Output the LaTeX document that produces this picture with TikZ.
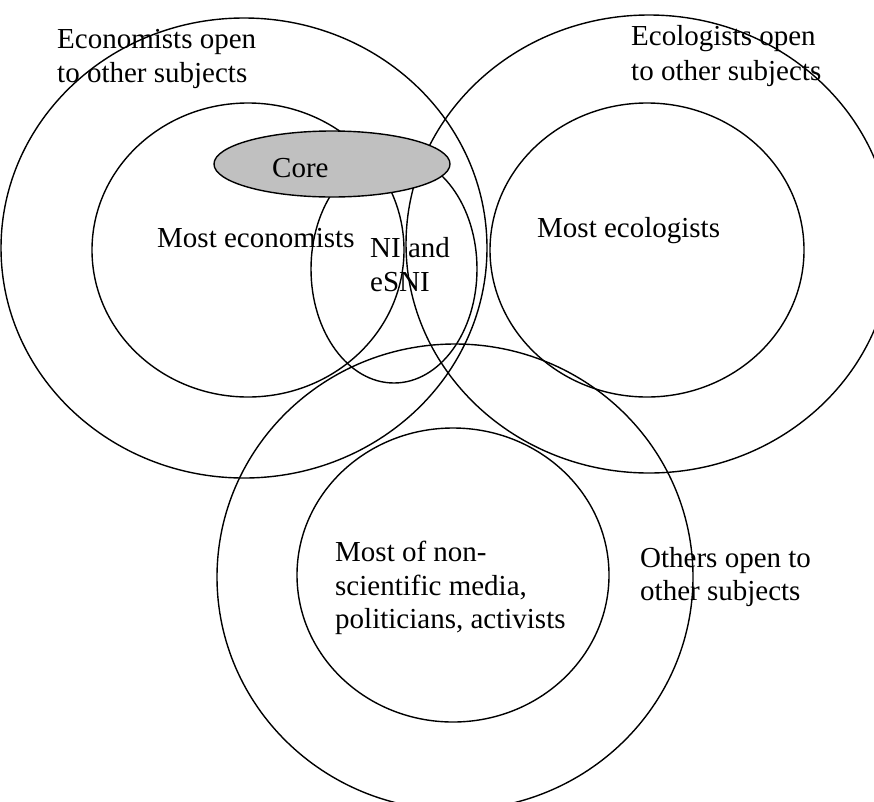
\documentclass[tikz,border=0pt]{standalone}
\usepackage{fontspec}
\setmainfont{Liberation Serif}
\begin{document}
\begin{tikzpicture}[x=1pt,y=-1pt,
  ring/.style={draw=black,line width=1.4pt},
  lbl/.style={inner sep=0pt,align=left,anchor=base west,font=\fontsize{29}{34}\selectfont}]
\useasboundingbox (0,0) rectangle (874,801);
\clip (0,0) rectangle (874,801);
% outer circles
\draw[ring] (244,248) ellipse [x radius=243pt, y radius=230pt];
\draw[ring] (649,244) ellipse [x radius=243pt, y radius=229pt];
\draw[ring] (455,577) ellipse [x radius=238pt, y radius=233pt];
% inner circles
\draw[ring] (248,250) ellipse [x radius=156pt, y radius=147pt];
\draw[ring] (647,250) ellipse [x radius=157pt, y radius=147pt];
\draw[ring] (453,575) ellipse [x radius=156pt, y radius=147pt];
% NI and eSNI
\draw[ring] (394,269) ellipse [x radius=83pt, y radius=114pt];
% core
\draw[ring,fill={rgb,255:red,192;green,192;blue,192}] (332,164) ellipse [x radius=118pt, y radius=33pt];
% labels
\node[lbl] (ecoA) at (57,48) {Economists open};
\node[lbl] (ecoB) at (57,82) {to other subjects};
\node[lbl] (ecolA) at (631,45) {Ecologists open};
\node[lbl] (ecolB) at (631,80) {to other subjects};
\node[lbl] (core) at (272,177) {Core};
\node[lbl] (mecon) at (157,247) {Most economists};
\node[lbl] (niA) at (370,257) {NI and};
\node[lbl] (niB) at (370,291) {eSNI};
\node[lbl] (mecol) at (537,237) {Most ecologists};
\node[lbl] (mA) at (335,561) {Most of non-};
\node[lbl] (mB) at (335,595) {scientific media,};
\node[lbl] (mC) at (335,628) {politicians, activists};
\node[lbl] (othA) at (640,567) {Others open to};
\node[lbl] (othB) at (640,600) {other subjects};
\end{tikzpicture}
\end{document}
